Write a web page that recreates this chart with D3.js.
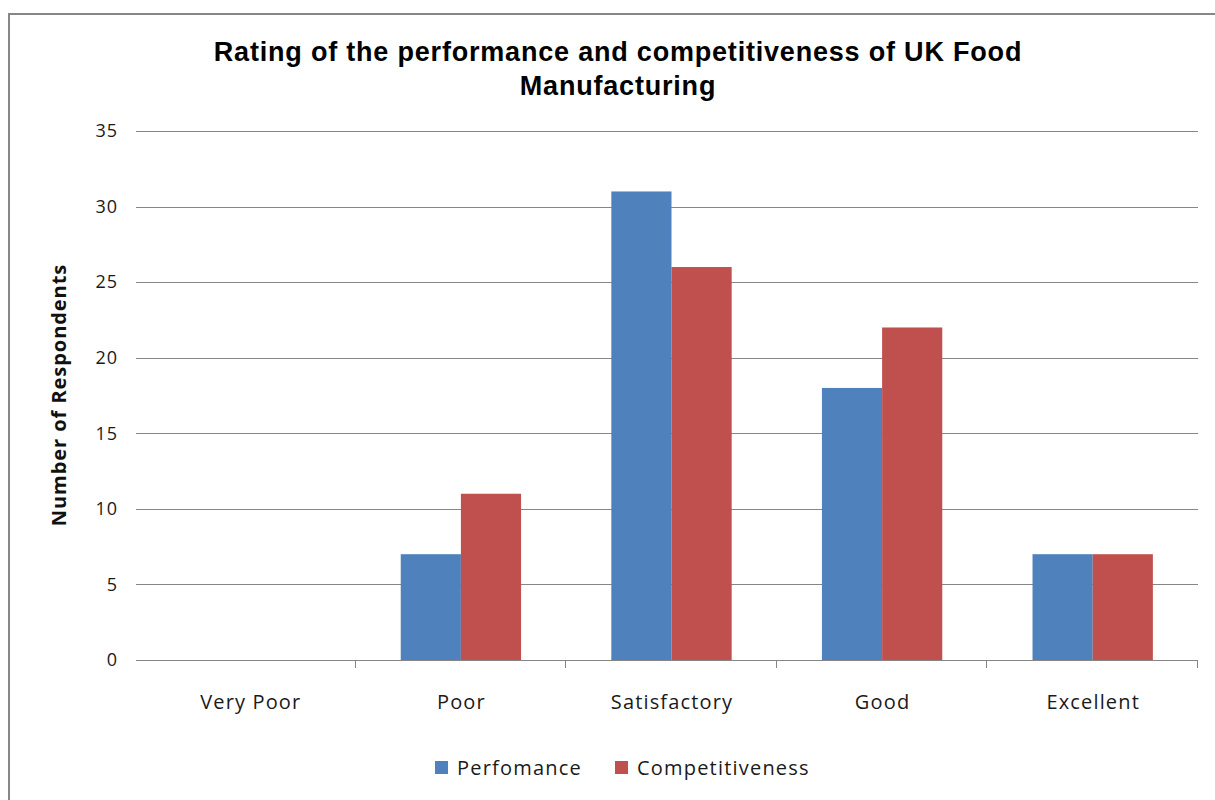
<!DOCTYPE html>
<html>
<head>
<meta charset="utf-8">
<script src="https://cdn.jsdelivr.net/npm/d3@7"></script>
<style>
  html, body { margin: 0; padding: 0; background: #fff; }
  svg { display: block; }
</style>
</head>
<body>
<svg id="chart" width="1215" height="800"></svg>
<script>
// Survey responses by rating category
const categories = ["Very Poor", "Poor", "Satisfactory", "Good", "Excellent"];
const performance = [0, 7, 31, 18, 7];
const competitiveness = [0, 11, 26, 22, 7];
const seriesNames = ["Perfomance", "Competitiveness"];
const yTicks = [0, 5, 10, 15, 20, 25, 30, 35];
const titleLines = ["Rating of the performance and competitiveness of UK Food", "Manufacturing"];
const yAxisTitle = "Number of Respondents";

(function () {
  const colors = ["#4F81BD", "#C0504D"];
  const gridColor = "#868686";
  const bodyFont = "'Open Sans', Lato, sans-serif";

  const svg = d3.select("#chart");
  const W = 1215, H = 800;
  const gridLeft = 136, plotLeft = 145, plotRight = 1198, plotTop = 131, plotBottom = 660;

  // Outer chart frame (left and top edges)
  svg.append("line").attr("x1", 9).attr("x2", 9).attr("y1", 13).attr("y2", H)
    .attr("stroke", "#878787").attr("stroke-width", 2);
  svg.append("line").attr("x1", 8).attr("x2", W).attr("y1", 14).attr("y2", 14)
    .attr("stroke", "#878787").attr("stroke-width", 2);

  const x0 = d3.scaleBand().domain(categories).range([plotLeft, plotRight]).paddingInner(0).paddingOuter(0);
  const bandW = x0.bandwidth();
  // 150% gap: two bars plus 1.5 bar widths of gap per category
  const barW = bandW / 3.5;
  const x1 = d3.scaleBand().domain(seriesNames).range([0.75 * barW, 2.75 * barW]).padding(0);
  const y = d3.scaleLinear().domain([0, 35]).range([plotBottom, plotTop]);

  // Horizontal gridlines
  svg.append("g").selectAll("line").data(yTicks.filter(t => t > 0)).join("line")
    .attr("x1", gridLeft).attr("x2", plotRight)
    .attr("y1", d => Math.round(y(d)) + 0.5).attr("y2", d => Math.round(y(d)) + 0.5)
    .attr("stroke", gridColor).attr("stroke-width", 1);

  // Y tick labels
  svg.append("g").selectAll("text").data(yTicks).join("text")
    .attr("x", 118).attr("y", d => y(d))
    .attr("dy", "0.35em")
    .attr("text-anchor", "end")
    .attr("font-family", bodyFont)
    .attr("font-size", 18)
    .attr("letter-spacing", 1)
    .attr("fill", "#1a1a1a")
    .text(d => d);

  // Bars
  const rows = categories.map((c, i) => ({ cat: c, vals: [performance[i], competitiveness[i]] }));
  const groups = svg.append("g").selectAll("g").data(rows).join("g")
    .attr("transform", d => `translate(${x0(d.cat)},0)`);
  groups.selectAll("rect").data(d => d.vals.map((v, j) => ({ name: seriesNames[j], v, j }))).join("rect")
    .attr("x", d => x1(d.name))
    .attr("width", x1.bandwidth())
    .attr("y", d => y(d.v))
    .attr("height", d => y(0) - y(d.v))
    .attr("fill", d => colors[d.j]);

  // Category axis line and ticks at category boundaries
  svg.append("line").attr("x1", gridLeft).attr("x2", plotRight)
    .attr("y1", plotBottom + 0.5).attr("y2", plotBottom + 0.5)
    .attr("stroke", gridColor).attr("stroke-width", 1);
  svg.append("g").selectAll("line").data(categories).join("line")
    .attr("x1", d => Math.round(x0(d) + bandW) - 0.5)
    .attr("x2", d => Math.round(x0(d) + bandW) - 0.5)
    .attr("y1", plotBottom).attr("y2", plotBottom + 8)
    .attr("stroke", gridColor).attr("stroke-width", 1);

  // Category labels
  svg.append("g").selectAll("text").data(categories).join("text")
    .attr("x", d => x0(d) + bandW / 2 + 0.5)
    .attr("y", 709)
    .attr("text-anchor", "middle")
    .attr("font-family", bodyFont)
    .attr("font-size", 20)
    .attr("letter-spacing", 1.15)
    .attr("fill", "#1a1a1a")
    .text(d => d);

  // Y axis title
  svg.append("text")
    .attr("transform", `translate(66,395) rotate(-90)`)
    .attr("text-anchor", "middle")
    .attr("font-family", bodyFont)
    .attr("font-weight", "bold")
    .attr("font-size", 20)
    .attr("letter-spacing", 0.95)
    .attr("fill", "#111")
    .text(yAxisTitle);

  // Title
  svg.append("g").selectAll("text").data(titleLines).join("text")
    .attr("x", 618)
    .attr("y", (d, i) => 61 + i * 34)
    .attr("text-anchor", "middle")
    .attr("font-family", "'Liberation Sans', Arial, sans-serif")
    .attr("font-weight", "bold")
    .attr("font-size", 27)
    .attr("letter-spacing", 0.8)
    .attr("fill", "#000")
    .text(d => d);

  // Legend
  const legend = svg.append("g").attr("transform", "translate(435,768)");
  const legendOffsets = [0, 180];
  const items = legend.selectAll("g").data(seriesNames).join("g")
    .attr("transform", (d, i) => `translate(${legendOffsets[i]},0)`);
  items.append("rect").attr("x", 0).attr("y", -7).attr("width", 13).attr("height", 13)
    .attr("fill", (d, i) => colors[i]);
  items.append("text").attr("x", 22).attr("y", 0).attr("dy", "0.35em")
    .attr("font-family", bodyFont)
    .attr("font-size", 20)
    .attr("letter-spacing", 1.2)
    .attr("fill", "#1a1a1a")
    .text(d => d);
})();
</script>
</body>
</html>
